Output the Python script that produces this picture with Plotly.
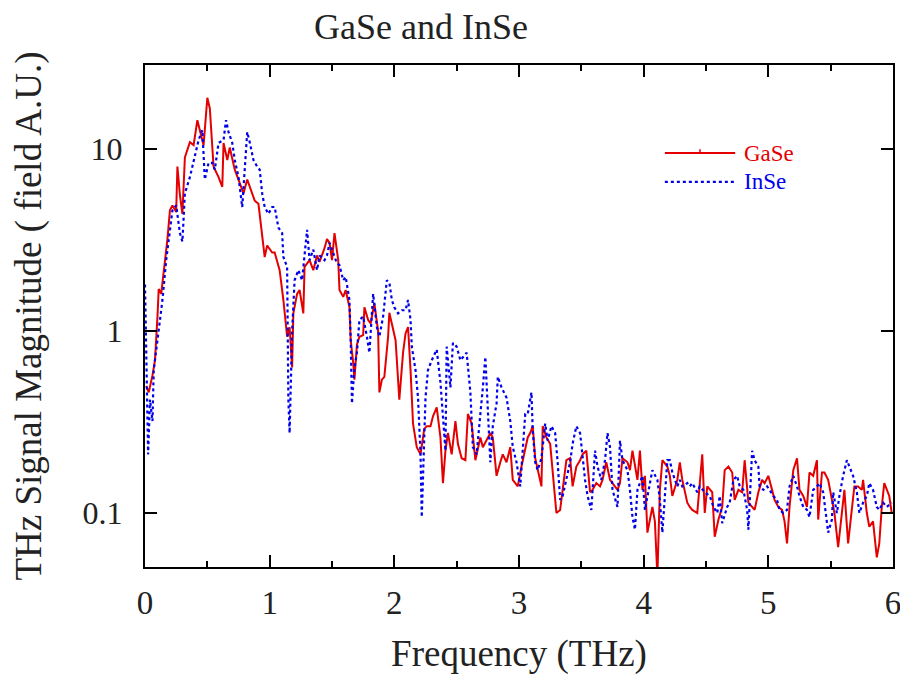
import plotly.graph_objects as go

# ---------------- data ----------------
gase_freq = [0.01, 0.03, 0.06, 0.08, 0.10, 0.11, 0.13, 0.15, 0.18, 0.20, 0.22, 0.25, 0.26, 0.28, 0.30,
             0.32, 0.36, 0.39, 0.42, 0.47, 0.50, 0.52, 0.54, 0.55, 0.59, 0.62, 0.63, 0.66, 0.68, 0.72,
             0.76, 0.79, 0.82, 0.84, 0.88, 0.91, 0.94, 0.96, 0.98, 1.02, 1.04, 1.07, 1.08, 1.11, 1.14,
             1.16, 1.18, 1.19, 1.22, 1.24, 1.27, 1.28, 1.32, 1.35, 1.38, 1.40, 1.44, 1.46, 1.48, 1.50,
             1.52, 1.55, 1.56, 1.59, 1.61, 1.64, 1.65, 1.67, 1.68, 1.70, 1.72, 1.75, 1.76, 1.79, 1.81,
             1.84, 1.87, 1.88, 1.90, 1.92, 1.95, 1.96, 1.99, 2.01, 2.04, 2.07, 2.09, 2.11, 2.13, 2.15,
             2.18, 2.21, 2.24, 2.26, 2.29, 2.31, 2.34, 2.37, 2.39, 2.41, 2.43, 2.46, 2.49, 2.51, 2.54,
             2.57, 2.59, 2.62, 2.65, 2.66, 2.69, 2.71, 2.74, 2.77, 2.79, 2.82, 2.85, 2.87, 2.90, 2.93,
             2.95, 2.99, 3.02, 3.05, 3.07, 3.09, 3.11, 3.13, 3.15, 3.18, 3.19, 3.22, 3.25, 3.27, 3.30,
             3.33, 3.35, 3.38, 3.41, 3.43, 3.46, 3.49, 3.51, 3.54, 3.57, 3.59, 3.62, 3.65, 3.67, 3.70,
             3.73, 3.75, 3.79, 3.81, 3.83, 3.87, 3.89, 3.91, 3.95, 3.97, 3.99, 4.01, 4.03, 4.07, 4.09,
             4.11, 4.13, 4.15, 4.19, 4.21, 4.23, 4.27, 4.29, 4.31, 4.35, 4.37, 4.39, 4.43, 4.45, 4.47,
             4.49, 4.51, 4.55, 4.57, 4.60, 4.63, 4.65, 4.68, 4.71, 4.73, 4.76, 4.79, 4.81, 4.84, 4.87,
             4.89, 4.92, 4.95, 4.97, 5.00, 5.03, 5.05, 5.08, 5.11, 5.13, 5.15, 5.17, 5.20, 5.23, 5.25,
             5.28, 5.31, 5.33, 5.36, 5.39, 5.40, 5.43, 5.45, 5.48, 5.51, 5.53, 5.56, 5.59, 5.61, 5.64,
             5.67, 5.69, 5.72, 5.75, 5.76, 5.79, 5.81, 5.84, 5.87, 5.89, 5.91, 5.93, 5.97, 5.99]
gase_mag = [0.50, 0.46, 0.57, 0.69, 1.2, 1.7, 1.6, 2.1, 3.2, 4.6, 4.9, 4.5, 8.0, 5.6, 4.4,
            9.0, 10.9, 10.5, 14.4, 10.5, 19.1, 16.7, 10.8, 8.0, 7.0, 6.2, 10.8, 8.7, 10.2, 7.7,
            6.5, 5.7, 6.8, 6.2, 5.2, 5.0, 3.45, 2.55, 2.95, 2.7, 2.7, 2.25, 2.16, 1.48, 0.93,
            1.05, 0.63, 1.25, 1.6, 1.68, 1.25, 2.25, 2.45, 2.16, 2.6, 2.4, 2.85, 3.2, 3.05, 2.45,
            3.45, 2.45, 1.68, 1.54, 1.68, 1.35, 0.89, 0.67, 0.54, 0.84, 0.93, 0.95, 1.35, 1.15, 1.1,
            1.42, 1.0, 0.46, 0.54, 0.56, 0.93, 1.26, 1.0, 0.89, 0.42, 0.76, 0.97, 1.05, 0.61, 0.31,
            0.23, 0.21, 0.29, 0.30, 0.30, 0.34, 0.38, 0.26, 0.146, 0.22, 0.275, 0.21, 0.32, 0.24, 0.20,
            0.195, 0.35, 0.31, 0.195, 0.21, 0.26, 0.23, 0.25, 0.275, 0.26, 0.16, 0.19, 0.21, 0.19, 0.23,
            0.152, 0.14, 0.18, 0.22, 0.26, 0.275, 0.30, 0.20, 0.172, 0.14, 0.30, 0.26, 0.24, 0.167, 0.10,
            0.104, 0.134, 0.195, 0.20, 0.14, 0.18, 0.195, 0.21, 0.22, 0.13, 0.134, 0.146, 0.14, 0.152, 0.19,
            0.152, 0.146, 0.134, 0.146, 0.20, 0.19, 0.172, 0.22, 0.152, 0.22, 0.134, 0.16, 0.078, 0.108, 0.09,
            0.045, 0.134, 0.195, 0.18, 0.16, 0.124, 0.152, 0.19, 0.152, 0.114, 0.108, 0.104, 0.10, 0.152, 0.21,
            0.10, 0.14, 0.13, 0.074, 0.092, 0.108, 0.172, 0.18, 0.167, 0.118, 0.134, 0.13, 0.195, 0.114, 0.108,
            0.104, 0.13, 0.152, 0.146, 0.16, 0.134, 0.118, 0.108, 0.104, 0.09, 0.068, 0.108, 0.172, 0.20, 0.134,
            0.124, 0.108, 0.167, 0.16, 0.195, 0.092, 0.167, 0.167, 0.152, 0.118, 0.10, 0.065, 0.10, 0.134, 0.068,
            0.108, 0.14, 0.14, 0.134, 0.152, 0.10, 0.084, 0.09, 0.057, 0.068, 0.108, 0.146, 0.124, 0.10]

inse_freq = [0.00, 0.01, 0.02, 0.025, 0.04, 0.06, 0.07, 0.10, 0.12, 0.14, 0.17, 0.18, 0.22, 0.25, 0.28,
             0.30, 0.32, 0.36, 0.40, 0.43, 0.46, 0.48, 0.51, 0.54, 0.56, 0.59, 0.63, 0.65, 0.67, 0.70,
             0.72, 0.75, 0.78, 0.80, 0.82, 0.84, 0.87, 0.90, 0.92, 0.94, 0.96, 0.99, 1.02, 1.04, 1.07,
             1.10, 1.11, 1.14, 1.145, 1.15, 1.16, 1.18, 1.20, 1.23, 1.26, 1.28, 1.30, 1.32, 1.35, 1.38,
             1.40, 1.44, 1.46, 1.48, 1.52, 1.54, 1.56, 1.59, 1.61, 1.64, 1.65, 1.66, 1.68, 1.70, 1.72,
             1.75, 1.78, 1.80, 1.83, 1.86, 1.88, 1.91, 1.94, 1.96, 1.98, 2.00, 2.03, 2.06, 2.09, 2.11,
             2.13, 2.14, 2.17, 2.19, 2.21, 2.22, 2.25, 2.27, 2.30, 2.34, 2.37, 2.39, 2.41, 2.42, 2.45,
             2.47, 2.50, 2.53, 2.55, 2.58, 2.61, 2.63, 2.66, 2.69, 2.71, 2.73, 2.74, 2.77, 2.79, 2.82,
             2.83, 2.86, 2.90, 2.93, 2.95, 2.98, 3.01, 3.03, 3.05, 3.07, 3.10, 3.11, 3.13, 3.15, 3.18,
             3.21, 3.23, 3.26, 3.29, 3.31, 3.33, 3.35, 3.38, 3.41, 3.43, 3.46, 3.49, 3.53, 3.55, 3.58,
             3.61, 3.63, 3.66, 3.69, 3.71, 3.73, 3.75, 3.79, 3.81, 3.83, 3.87, 3.89, 3.91, 3.93, 3.95,
             3.99, 4.01, 4.03, 4.07, 4.11, 4.13, 4.15, 4.19, 4.21, 4.23, 4.27, 4.29, 4.31, 4.35, 4.37,
             4.39, 4.43, 4.45, 4.49, 4.53, 4.56, 4.59, 4.61, 4.63, 4.67, 4.69, 4.72, 4.75, 4.77, 4.80,
             4.83, 4.84, 4.87, 4.89, 4.92, 4.93, 4.96, 4.99, 5.01, 5.04, 5.07, 5.09, 5.12, 5.15, 5.17,
             5.20, 5.23, 5.25, 5.28, 5.31, 5.33, 5.36, 5.39, 5.41, 5.44, 5.48, 5.51, 5.52, 5.55, 5.57,
             5.60, 5.63, 5.65, 5.68, 5.71, 5.73, 5.76, 5.79, 5.81, 5.84, 5.87, 5.89, 5.92, 5.95, 5.99]
inse_mag = [1.8, 0.76, 0.32, 0.21, 0.42, 0.32, 0.61, 0.89, 1.15, 1.48, 2.45, 2.8, 4.6, 4.9, 3.45,
            3.1, 5.7, 7.0, 9.0, 11.2, 12.7, 6.8, 8.4, 8.4, 7.7, 10.8, 11.2, 14.4, 12.4, 10.8,
            8.7, 7.0, 4.8, 8.0, 12.4, 10.9, 8.7, 8.0, 7.7, 5.7, 4.8, 4.4, 4.8, 4.8, 3.7,
            3.45, 2.55, 2.25, 1.0, 0.42, 0.275, 1.0, 1.9, 2.16, 1.9, 2.6, 3.6, 2.45, 2.8, 2.16,
            2.6, 2.45, 2.6, 3.05, 2.6, 2.35, 2.3, 1.9, 1.98, 1.48, 0.89, 0.40, 0.63, 0.76, 1.15,
            1.2, 0.93, 0.76, 1.6, 1.05, 0.93, 1.2, 1.9, 1.85, 1.48, 1.35, 1.25, 1.3, 1.3, 1.48,
            1.15, 0.82, 0.61, 0.43, 0.21, 0.095, 0.43, 0.61, 0.69, 0.79, 0.52, 0.32, 0.22, 0.82, 0.49,
            0.86, 0.82, 0.69, 0.72, 0.76, 0.46, 0.23, 0.21, 0.34, 0.49, 0.72, 0.49, 0.19, 0.30, 0.40,
            0.56, 0.49, 0.43, 0.32, 0.23, 0.19, 0.14, 0.21, 0.35, 0.35, 0.46, 0.286, 0.19, 0.172, 0.20,
            0.31, 0.25, 0.30, 0.275, 0.19, 0.118, 0.124, 0.152, 0.19, 0.24, 0.30, 0.275, 0.152, 0.124, 0.104,
            0.22, 0.18, 0.152, 0.195, 0.275, 0.23, 0.134, 0.108, 0.25, 0.195, 0.172, 0.134, 0.095, 0.081, 0.134,
            0.16, 0.104, 0.124, 0.172, 0.152, 0.118, 0.078, 0.195, 0.195, 0.167, 0.14, 0.152, 0.14, 0.146, 0.14,
            0.146, 0.13, 0.14, 0.13, 0.124, 0.108, 0.10, 0.124, 0.088, 0.108, 0.114, 0.152, 0.16, 0.14, 0.134,
            0.104, 0.081, 0.22, 0.195, 0.18, 0.14, 0.134, 0.14, 0.134, 0.124, 0.118, 0.104, 0.10, 0.104, 0.14,
            0.16, 0.14, 0.124, 0.108, 0.104, 0.095, 0.134, 0.14, 0.146, 0.13, 0.078, 0.092, 0.13, 0.10, 0.124,
            0.16, 0.195, 0.18, 0.16, 0.13, 0.10, 0.114, 0.124, 0.146, 0.134, 0.108, 0.104, 0.114, 0.108, 0.114]

x_tickvals = [0, 1, 2, 3, 4, 5, 6]
y_tickvals = [0.1, 1, 10]
y_ticktext = ["0.1", "1", "10"]
series_names = ["GaSe", "InSe"]

title_text = "GaSe and InSe"
x_title = "Frequency (THz)"
y_title = "THz Signal Magnitude ( field A.U.)"

RED = "rgb(228,0,0)"
BLUE = "rgb(0,0,235)"
SERIF = "Liberation Serif, Times New Roman, serif"
TXT = "#222"

fig = go.Figure()
fig.add_trace(go.Scatter(
    x=gase_freq, y=gase_mag, mode="lines", line=dict(color=RED, width=2),
    name=series_names[0], showlegend=False))
fig.add_trace(go.Scatter(
    x=inse_freq, y=inse_mag, mode="lines", line=dict(color=BLUE, width=2.2, dash="dot"),
    name=series_names[1], showlegend=False))

# ---- hand-drawn legend (paper coordinates) ----
leg_x0, leg_x1, leg_tx = 0.695, 0.789, 0.798
leg_rows = [(0.8247, RED, "solid", 2), (0.767, BLUE, "dot", 2.2)]
shapes = []
annotations = []
for (yy, col, dash, w), nm in zip(leg_rows, series_names):
    shapes.append(dict(type="line", xref="paper", yref="paper", x0=leg_x0, x1=leg_x1, y0=yy, y1=yy,
                       line=dict(color=col, width=w, dash=dash)))
    annotations.append(dict(xref="paper", yref="paper", x=leg_tx, y=yy, xanchor="left", yanchor="middle",
                            text=nm, showarrow=False, font=dict(family=SERIF, size=23, color=col)))
# small vertical tick in the middle of the GaSe sample line
shapes.append(dict(type="line", xref="paper", yref="paper", x0=0.742, x1=0.742, y0=0.8247, y1=0.832,
                   line=dict(color=RED, width=1.5)))

fig.update_layout(
    width=900, height=675,
    margin=dict(l=145, r=7, t=65, b=108),
    paper_bgcolor="white", plot_bgcolor="white",
    font=dict(family=SERIF, color=TXT, size=30),
    title=dict(text=title_text, x=421 / 900, xanchor="center", xref="container",
               y=1 - 26 / 675, yanchor="middle", yref="container",
               font=dict(family=SERIF, size=36, color=TXT)),
    showlegend=False,
    shapes=shapes,
    annotations=annotations,
)

fig.update_xaxes(
    range=[0, 6], tickvals=x_tickvals, showgrid=False, zeroline=False, automargin=False,
    ticklabeloverflow="allow",
    showline=True, linecolor="black", linewidth=2, mirror="allticks",
    ticks="inside", ticklen=12, tickwidth=2, tickcolor="black",
    minor=dict(dtick=0.5, ticks="inside", ticklen=6, tickwidth=1.5, tickcolor="black", showgrid=False),
    tickfont=dict(family=SERIF, size=33, color=TXT), ticklabelstandoff=5,
    title=dict(text=x_title, font=dict(family=SERIF, size=37, color=TXT), standoff=24),
)
fig.update_yaxes(
    type="log", range=[-1.2967, 1.4615], tickvals=y_tickvals, ticktext=y_ticktext,
    showgrid=False, zeroline=False, automargin=False, ticklabeloverflow="allow",
    showline=True, linecolor="black", linewidth=2, mirror="allticks",
    ticks="inside", ticklen=12, tickwidth=2, tickcolor="black",
    tickfont=dict(family=SERIF, size=32, color=TXT), ticklabelstandoff=14,
    title=dict(text=y_title, font=dict(family=SERIF, size=37, color=TXT), standoff=30),
)

fig.write_html("out.html")
